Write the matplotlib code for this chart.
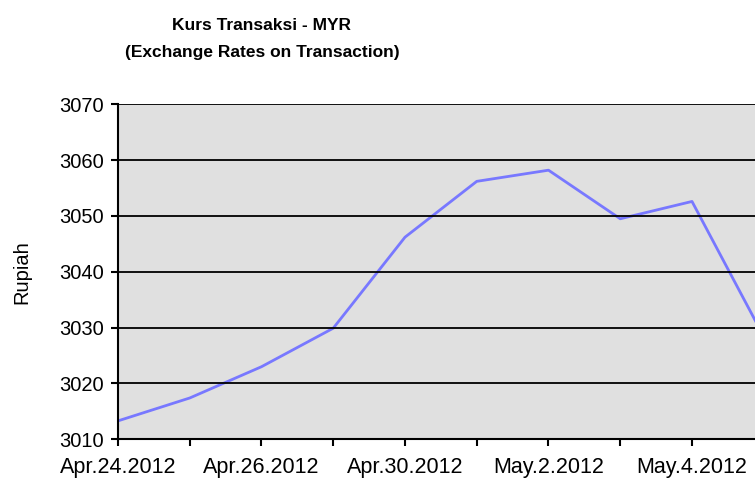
import matplotlib
matplotlib.use("Agg")
import matplotlib.pyplot as plt

# data
dates = ["Apr.24.2012", "Apr.25.2012", "Apr.26.2012", "Apr.27.2012", "Apr.30.2012",
         "May.1.2012", "May.2.2012", "May.3.2012", "May.4.2012", "May.7.2012"]
rates = [3013.3, 3017.4, 3023.0, 3029.9, 3046.2, 3056.2, 3058.2, 3049.5, 3052.6, 3028.4]
yticks = [3010, 3020, 3030, 3040, 3050, 3060, 3070]

plt.rcParams['font.family'] = ['Liberation Sans', 'DejaVu Sans']

fig = plt.figure(figsize=(7.55, 4.79), dpi=100)
# plot area runs past the right edge, as in the cropped original
ax = fig.add_axes([118 / 755, 1 - 439.3 / 479, 9 * 71.75 / 755, 335 / 479])
ax.set_facecolor('#e0e0e0')

x = list(range(len(dates)))
ax.plot(x, rates, color='#7878ff', lw=2, solid_joinstyle='round')

ax.set_xlim(0, len(dates) - 1)
ax.set_ylim(3010, 3070)
ax.set_yticks(yticks)
ax.set_xticks(x)
ax.set_xticklabels([d if i % 2 == 0 else '' for i, d in enumerate(dates)])
ax.yaxis.grid(True, color='black', lw=1.3)
ax.set_axisbelow(False)
for s in ['top', 'right']:
    ax.spines[s].set_visible(False)
for s in ['left', 'bottom']:
    ax.spines[s].set_linewidth(1.5)
ax.tick_params(axis='both', direction='out', length=5, width=1.5, colors='black')
ax.tick_params(axis='x', pad=8, labelsize=15.5)
ax.tick_params(axis='y', pad=5, labelsize=14.5)
ax.set_ylabel('Rupiah', fontsize=14.5, labelpad=20)

fig.text(262 / 755, 1 - 25 / 479, 'Kurs Transaksi - MYR', ha='center', va='center',
         fontsize=12.5, fontweight='bold')
fig.text(262 / 755, 1 - 53 / 479, '(Exchange Rates on Transaction)', ha='center', va='center',
         fontsize=12.5, fontweight='bold')

fig.savefig('out.png', dpi=100)
